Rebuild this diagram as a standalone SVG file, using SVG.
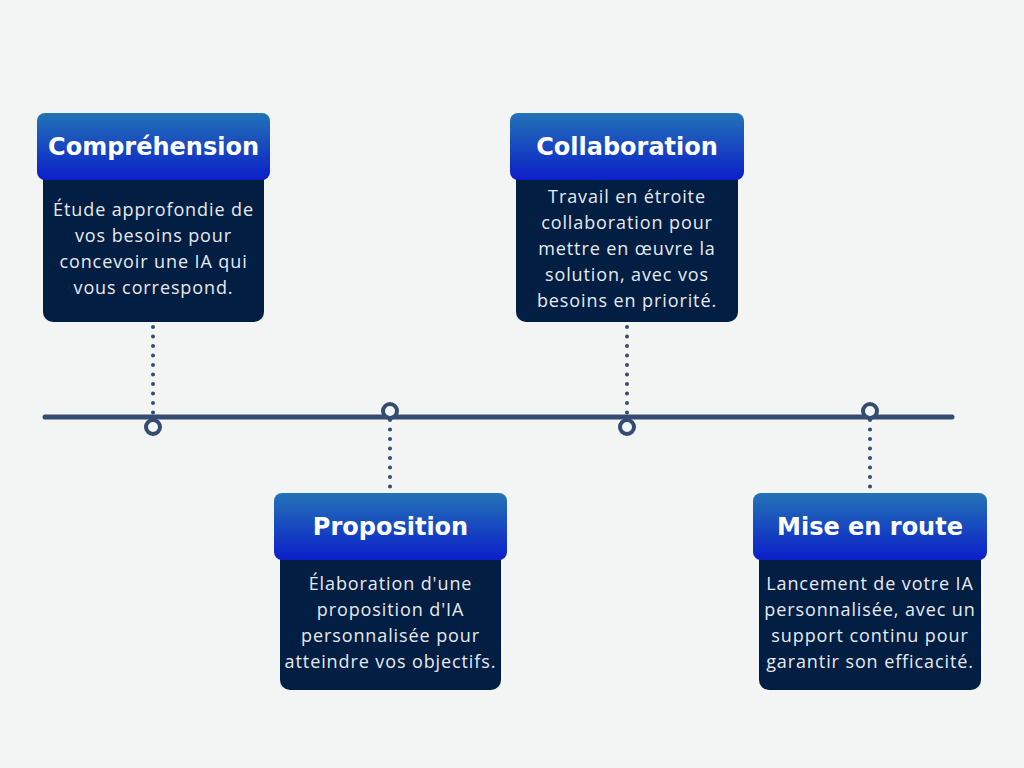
<svg xmlns="http://www.w3.org/2000/svg" width="1024" height="768" viewBox="0 0 1024 768">
<defs>
<linearGradient id="hg" x1="0" y1="0" x2="0" y2="1">
<stop offset="0" stop-color="#2373b6"/>
<stop offset="1" stop-color="#0c1fc9"/>
</linearGradient>
<style>
.body{fill:#021e42}
.head{fill:url(#hg)}
.ht{font-family:"DejaVu Sans","Liberation Sans",sans-serif;font-weight:bold;font-size:24px;fill:#ffffff;text-anchor:middle}
.bt{font-family:"Open Sans","Liberation Sans",sans-serif;font-size:18px;letter-spacing:0.9px;fill:#e6eaf0;text-anchor:middle}
.tl{stroke:#344c72;stroke-width:5;stroke-linecap:round;fill:none}
.dot{stroke:#344c72;stroke-width:4;stroke-linecap:round;stroke-dasharray:0 9.5;fill:none}
.ring{fill:#f3f5f4;stroke:#344c72;stroke-width:4}
</style>
</defs>
<rect width="1024" height="768" fill="#f3f5f4"/>
<g id="connectors">
<line class="tl" x1="45" y1="417" x2="952" y2="417"/>
<line class="dot" x1="153" y1="327" x2="153" y2="418"/>
<line class="dot" x1="390" y1="420" x2="390" y2="490"/>
<line class="dot" x1="627" y1="327" x2="627" y2="418"/>
<line class="dot" x1="870" y1="420" x2="870" y2="490"/>
<circle class="ring" cx="153" cy="427" r="7"/>
<circle class="ring" cx="390" cy="411" r="7"/>
<circle class="ring" cx="627" cy="427" r="7"/>
<circle class="ring" cx="870" cy="411" r="7"/>
</g>
<g id="comprehension">
<rect class="body" x="43" y="170" width="221" height="152" rx="10"/>
<rect class="head" x="37" y="113" width="233" height="67" rx="8"/>
<text class="ht" x="153.5" y="155">Compréhension</text>
<text class="bt" x="153.5" y="216">Étude approfondie de</text>
<text class="bt" x="153.5" y="242">vos besoins pour</text>
<text class="bt" x="153.5" y="268">concevoir une IA qui</text>
<text class="bt" x="153.5" y="294">vous correspond.</text>
</g>
<g id="collaboration">
<rect class="body" x="516" y="170" width="222" height="152" rx="10"/>
<rect class="head" x="510" y="113" width="234" height="67" rx="8"/>
<text class="ht" x="627" y="155">Collaboration</text>
<text class="bt" x="627" y="203">Travail en étroite</text>
<text class="bt" x="627" y="229">collaboration pour</text>
<text class="bt" x="627" y="255">mettre en œuvre la</text>
<text class="bt" x="627" y="281">solution, avec vos</text>
<text class="bt" x="627" y="307">besoins en priorité.</text>
</g>
<g id="proposition">
<rect class="body" x="280" y="550" width="221" height="140" rx="10"/>
<rect class="head" x="274" y="493" width="233" height="67" rx="8"/>
<text class="ht" x="390.5" y="535">Proposition</text>
<text class="bt" x="390.5" y="590">Élaboration d'une</text>
<text class="bt" x="390.5" y="616">proposition d'IA</text>
<text class="bt" x="390.5" y="642">personnalisée pour</text>
<text class="bt" x="390.5" y="668">atteindre vos objectifs.</text>
</g>
<g id="mise-en-route">
<rect class="body" x="759" y="550" width="222" height="140" rx="10"/>
<rect class="head" x="753" y="493" width="234" height="67" rx="8"/>
<text class="ht" x="870" y="535">Mise en route</text>
<text class="bt" x="870" y="590">Lancement de votre IA</text>
<text class="bt" x="870" y="616">personnalisée, avec un</text>
<text class="bt" x="870" y="642">support continu pour</text>
<text class="bt" x="870" y="668">garantir son efficacité.</text>
</g>
</svg>
